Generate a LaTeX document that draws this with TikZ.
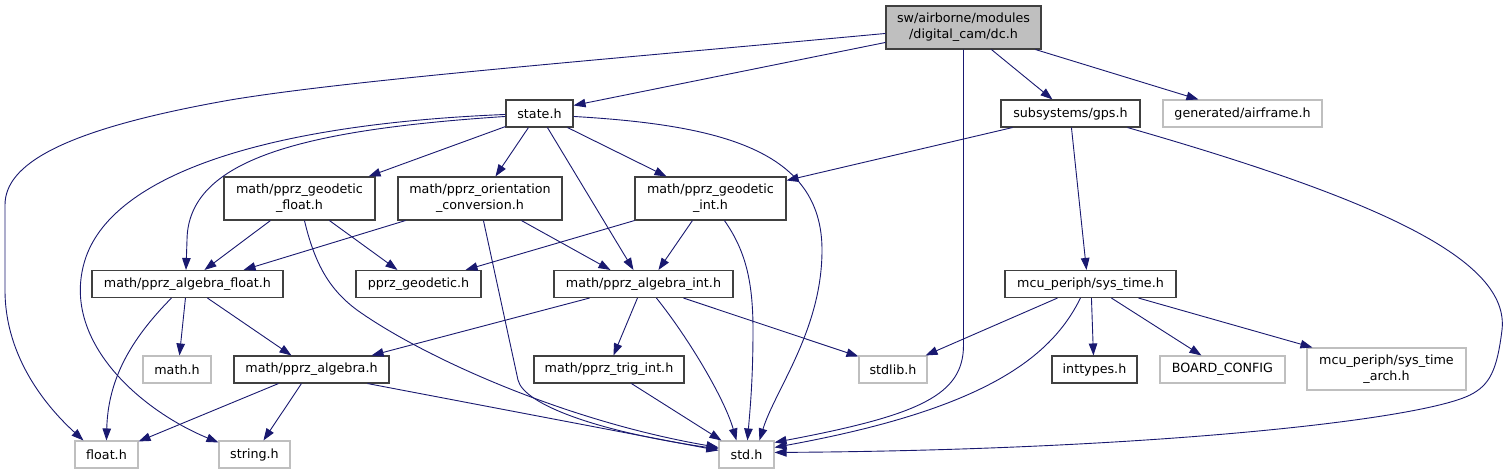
\documentclass[tikz,border=0pt]{standalone}
\usepackage{fontspec}
\usepackage{xcolor}
\setmainfont{DejaVu Sans}
\usetikzlibrary{arrows.meta,calc}
\definecolor{edgeblue}{HTML}{191970}
\definecolor{boxline}{HTML}{404040}
\definecolor{extline}{HTML}{BFBFBF}
\definecolor{rootfill}{HTML}{BFBFBF}

\begin{document}
\begin{tikzpicture}[x=1pt, y=-1pt,
  hdr/.style={draw=boxline, line width=1.1pt, fill=white, inner sep=0pt,
    minimum height=27pt, align=center, font=\fontsize{12.7pt}{16pt}\selectfont},
  ext/.style={hdr, draw=extline},
  root/.style={hdr, fill=rootfill},
  inc/.style={draw=edgeblue, line width=0.9pt, -{Triangle[length=12pt,width=8.5pt]}}]

% page frame
\fill[white] (0,0) rectangle (1508,475);
\useasboundingbox (0,0) rectangle (1508,475);

% =========================
% ROW 0 (the file itself)
% =========================
\node[root, minimum width=155pt, minimum height=43pt] (dc) at (963.5,27.5)
  {sw/airborne/modules\\/digital\_cam/dc.h};

% =========================
% ROW 1
% =========================
\node[hdr, minimum width=67pt] (state) at (539.5,113.5) {state.h};
\node[hdr, minimum width=139pt] (gps) at (1070.5,113.5) {subsystems/gps.h};
\node[ext, minimum width=159pt] (airframe) at (1242.5,113.5) {generated/airframe.h};

% =========================
% ROW 2
% =========================
\node[hdr, minimum width=151pt, minimum height=43pt] (geofloat) at (299.5,198.5)
  {math/pprz\_geodetic\\\_float.h};
\node[hdr, minimum width=164pt, minimum height=43pt] (orient) at (480,198.5)
  {math/pprz\_orientation\\\_conversion.h};
\node[hdr, minimum width=151pt, minimum height=43pt] (geoint) at (710.5,198.5)
  {math/pprz\_geodetic\\\_int.h};

% =========================
% ROW 3
% =========================
\node[hdr, minimum width=191pt] (algfloat) at (187.5,284) {math/pprz\_algebra\_float.h};
\node[hdr, minimum width=125pt] (pgeodetic) at (418.5,284) {pprz\_geodetic.h};
\node[hdr, minimum width=179pt] (algint) at (643.5,284) {math/pprz\_algebra\_int.h};
\node[hdr, minimum width=171pt] (systime) at (1090.5,284) {mcu\_periph/sys\_time.h};

% =========================
% ROW 4
% =========================
\node[ext, minimum width=68pt] (math) at (177,369.5) {math.h};
\node[hdr, minimum width=155pt] (palgebra) at (311.5,369.5) {math/pprz\_algebra.h};
\node[hdr, minimum width=150pt] (trig) at (609,369.5) {math/pprz\_trig\_int.h};
\node[ext, minimum width=68pt] (stdlib) at (893,369.5) {stdlib.h};
\node[hdr, minimum width=85pt] (inttypes) at (1094.5,369.5) {inttypes.h};
\node[ext, minimum width=125pt] (board) at (1222.5,369.5) {BOARD\_CONFIG};
\node[ext, minimum width=159pt, minimum height=42pt] (arch) at (1386.5,369)
  {mcu\_periph/sys\_time\\\_arch.h};

% =========================
% ROW 5
% =========================
\node[ext, minimum width=63pt] (float) at (106.5,454.5) {float.h};
\node[ext, minimum width=71pt] (string) at (254.5,454.5) {string.h};
\node[ext, minimum width=55pt] (std) at (746.5,454.5) {std.h};

% =========================
% INCLUDES OF dc.h
% =========================
\draw[inc] ($(dc.north west)+(0,28)$) .. controls (600,60) and (350,80) .. (230,100)
  .. controls (60,130) and (5,165) .. (5,205) -- (5,290)
  .. controls (5,360) and (50,410) .. ($(float.north west)+(9,0)$);
\draw[inc] ($(dc.north west)+(0,37)$) -- ($(state.north east)+(0,6)$);
\draw[inc] (dc.south) -- (963.5,345) .. controls (963.5,395) and (920,415)
  .. ($(std.north east)+(0,2)$);
\draw[inc] ($(dc.south west)+(106,0)$) -- ($(gps.north west)+(52,0)$);
\draw[inc] ($(dc.south east)+(-6,0)$) -- ($(airframe.north west)+(36,0)$);

% =========================
% INCLUDES OF state.h
% =========================
\draw[inc] ($(state.north west)+(0,17)$) .. controls (300,130) and (188,160) .. (187,240)
  -- ($(algfloat.north)+(-1.5,0)$);
\draw[inc] ($(state.north west)+(0,15)$) .. controls (250,125) and (110,180) .. (85,260)
  .. controls (60,340) and (140,410) .. ($(string.north west)+(0,2)$);
\draw[inc] ($(state.south west)+(0,-1)$) -- ($(geofloat.north east)+(-7,0)$);
\draw[inc] ($(state.south west)+(23,0)$) -- ($(orient.north west)+(98,0)$);
\draw[inc] ($(state.south west)+(42,0)$) -- ($(algint.north west)+(80,0)$);
\draw[inc] ($(state.south east)+(-6,0)$) -- ($(geoint.north west)+(32,0)$);
\draw[inc] ($(state.north east)+(0,17)$) .. controls (720,125) and (822,150) .. (822,250)
  .. controls (822,330) and (775,390) .. ($(std.north west)+(41,0)$);

% =========================
% INCLUDES OF subsystems/gps.h
% =========================
\draw[inc] ($(gps.south west)+(12,0)$) -- ($(geoint.north east)+(0,4)$);
\draw[inc] ($(gps.south west)+(71,0)$) -- ($(systime.north west)+(82,0)$);
\draw[inc] ($(gps.south east)+(-13,0)$) .. controls (1380,200) and (1510,260) .. (1502,330)
  .. controls (1497,370) and (1490,385) .. (1470,395)
  .. controls (1420,420) and (1150,450) .. ($(std.north east)+(0,12)$);

% =========================
% ROW 2 -> ROW 3
% =========================
\draw[inc] ($(geofloat.south west)+(47,0)$) -- ($(algfloat.north west)+(113,0)$);
\draw[inc] ($(geofloat.south west)+(106,0)$) -- ($(pgeodetic.north west)+(42,0)$);
\draw[inc] ($(geofloat.south west)+(81,0)$) .. controls (315,265) and (330,290) .. (357,310)
  .. controls (420,355) and (560,420) .. ($(std.north west)+(0,7)$);

\draw[inc] ($(orient.south west)+(8,0)$) -- ($(algfloat.north east)+(-40,0)$);
\draw[inc] ($(orient.south west)+(124,0)$) -- ($(algint.north west)+(57,0)$);
\draw[inc] ($(orient.south west)+(86,0)$) -- (518,380) .. controls (524,405) and (600,432)
  .. ($(std.north west)+(0,8.5)$);

\draw[inc] (geoint.south west) -- ($(pgeodetic.north east)+(-16,0)$);
\draw[inc] ($(geoint.south west)+(58,0)$) -- ($(algint.north west)+(105,0)$);
\draw[inc] ($(geoint.south west)+(90,0)$) .. controls (745,250) and (753,280) .. (753,330)
  .. controls (753,380) and (750,410) .. ($(std.north west)+(29,0)$);

% =========================
% ROW 3 -> ROW 4 / 5
% =========================
\draw[inc] ($(algfloat.south west)+(80,0)$) .. controls (130,340) and (108,380)
  .. ($(float.north west)+(32,0)$);
\draw[inc] ($(algfloat.south west)+(94,0)$) -- ($(math.north west)+(37,0)$);
\draw[inc] ($(algfloat.south west)+(116,0)$) -- ($(palgebra.north west)+(58,0)$);

\draw[inc] ($(algint.south west)+(36,0)$) -- ($(palgebra.north east)+(-18,0)$);
\draw[inc] ($(algint.south west)+(84,0)$) -- ($(trig.north west)+(80,0)$);
\draw[inc] ($(algint.south west)+(103,0)$) .. controls (690,340) and (725,400)
  .. ($(std.north west)+(18,0)$);
\draw[inc] ($(algint.south east)+(-50,0)$) -- ($(stdlib.north west)+(0,1)$);

\draw[inc] ($(systime.south west)+(53,0)$) -- ($(stdlib.north east)+(-2,0)$);
\draw[inc] ($(systime.south west)+(76,0)$) .. controls (1050,360) and (980,410)
  .. ($(std.north east)+(0,7)$);
\draw[inc] ($(systime.south west)+(87,0)$) -- ($(inttypes.north west)+(42,0)$);
\draw[inc] ($(systime.south west)+(107,0)$) -- ($(board.north west)+(42,0)$);
\draw[inc] ($(systime.south east)+(-38,0)$) -- ($(arch.north west)+(6,0)$);

% =========================
% ROW 4 -> ROW 5
% =========================
\draw[inc] ($(palgebra.south west)+(45,0)$) -- ($(float.north east)+(0,1)$);
\draw[inc] ($(palgebra.south west)+(68,0)$) -- ($(string.north west)+(45,0)$);
\draw[inc] ($(palgebra.south east)+(-22,0)$) -- ($(std.north west)+(0,10)$);
\draw[inc] ($(trig.south west)+(98,0)$) -- ($(std.north west)+(3,0)$);

\end{tikzpicture}
\end{document}
